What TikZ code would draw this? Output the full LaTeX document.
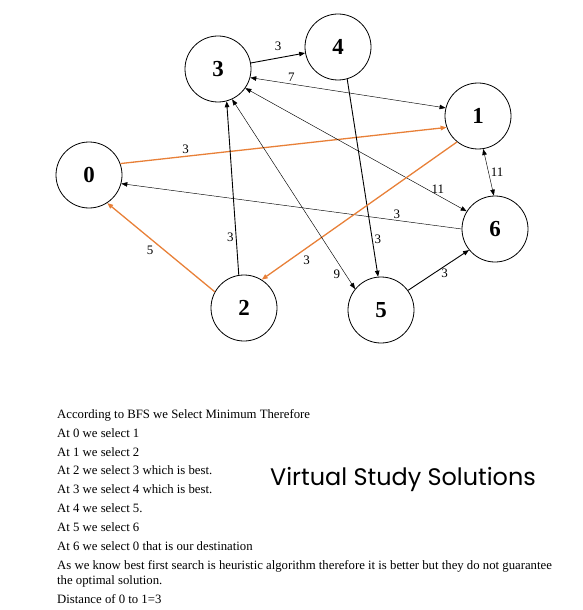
\documentclass[tikz,border=0pt]{standalone}
\usepackage{fontspec}
\setmainfont{Liberation Serif}
\newfontfamily\brandfont{Poppins}
\usetikzlibrary{arrows.meta, positioning}
\definecolor{bfsorange}{RGB}{232,128,56}

\begin{document}
\begin{tikzpicture}[
    x=1bp, y=-1bp,
    >={Triangle[length=6bp, width=4.5bp]},
    font=\fontsize{12.8}{15}\selectfont,
    state/.style={draw, circle, minimum size=66bp, inner sep=0pt, line width=0.8bp, font=\fontsize{23}{27}\selectfont\bfseries},
    weight/.style={inner sep=2bp, font=\fontsize{13}{15}\selectfont},
    heavy/.style={->, line width=0.9bp},
    light/.style={<->, line width=0.45bp},
    chosen/.style={->, line width=1.3bp, draw=bfsorange},
    note/.style={anchor=north west, inner sep=0pt, text height=9bp, text depth=3bp}
  ]
    \useasboundingbox (0,0) rectangle (583,610);
    % graph
    \node[state] (n3) at (218,69) {3};
    \node[state] (n4) at (338,47) {4};
    \node[state] (n1) at (478,116) {1};
    \node[state] (n0) at (89,175) {0};
    \node[state] (n6) at (495,229) {6};
    \node[state] (n5) at (381,310) {5};
    \node[state] (n2) at (244,308) {2};
    \draw[heavy] (n3) -- node[weight, above=5bp] {3} (n4);
    \draw[light] (n3.-15) -- node[weight, pos=.21, above] {7} (n1.166);
    \draw[chosen] (n0.20) -- node[weight, pos=.2, above] {3} (n1.200);
    \draw[light] (n3.-35) -- node[weight, pos=.87, above] {11} (n6.148);
    \draw[light] (n1.-81) -- node[weight, right] {11} (n6.92);
    \draw[->, line width=0.45bp] (n6.180) -- node[weight, pos=.19, above] {3} (n0.-15);
    \draw[heavy] (n2.99) -- node[weight, pos=.22, left] {3} (n3.-75);
    \draw[heavy] (n4.-74) -- node[weight, pos=.81, right] {3} (n5.95);
    \draw[chosen] (n1.231) -- node[weight, pos=.77, below=5bp] {3} (n2.58);
    \draw[light] (n3.-65) -- node[weight, pos=.92, left=3bp] {9} (n5.141);
    \draw[chosen] (n2.151) -- node[weight, pos=.6, below=5bp] {5} (n0.-57);
    \draw[heavy] (n5.36) -- node[weight, pos=.6, below] {3} (n6.219);
    % notes
    \node[note] (l1) at (57,409) {According to BFS we Select Minimum Therefore};
    \node[note, below=6.5bp of l1.south west, anchor=north west] (l2) {At 0 we select 1};
    \node[note, below=6.5bp of l2.south west, anchor=north west] (l3) {At 1 we select 2};
    \node[note, below=6.5bp of l3.south west, anchor=north west] (l4) {At 2 we select 3 which is best.};
    \node[note, below=6.5bp of l4.south west, anchor=north west] (l5) {At 3 we select 4 which is best.};
    \node[note, below=6.5bp of l5.south west, anchor=north west] (l6) {At 4 we select 5.};
    \node[note, below=6.5bp of l6.south west, anchor=north west] (l7) {At 5 we select 6};
    \node[note, below=6.5bp of l7.south west, anchor=north west] (l8) {At 6 we select 0 that is our destination};
    \node[note, below=6.5bp of l8.south west, anchor=north west] (l9) {As we know best first search is heuristic algorithm therefore it is better but they do not guarantee};
    \node[note, below=2.5bp of l9.south west, anchor=north west] (l10) {the optimal solution.};
    \node[note, below=6.5bp of l10.south west, anchor=north west] (l11) {Distance of 0 to 1=3};
    \node[font=\brandfont\fontsize{24}{28}\selectfont] (brand) at (403,479) {Virtual Study Solutions};
\end{tikzpicture}
\end{document}
